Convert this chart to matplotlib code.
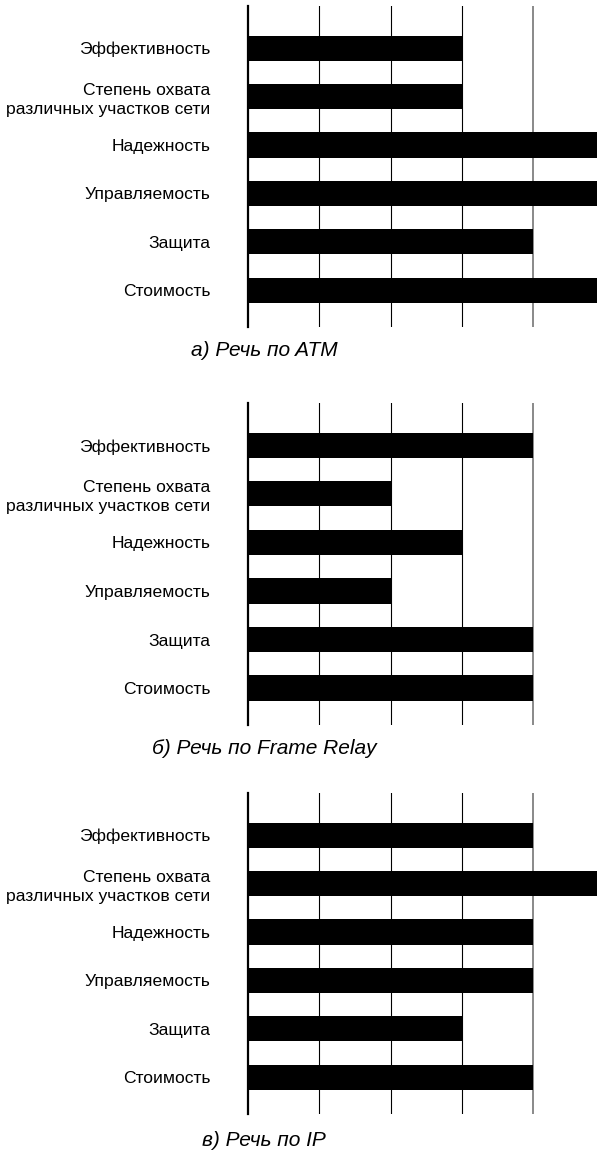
import matplotlib
matplotlib.use('Agg')
import matplotlib.pyplot as plt

plt.rcParams['font.family'] = ['Liberation Sans', 'DejaVu Sans']

# Categories (top to bottom)
criteria = ['Эффективность', 'Степень охвата\nразличных участков сети', 'Надежность',
            'Управляемость', 'Защита', 'Стоимость']

# Scores per technology
atm = [3, 3, 5, 5, 4, 5]
frame_relay = [4, 2, 3, 2, 4, 4]
ip = [4, 5, 4, 4, 3, 4]

captions = ['а) Речь по ATM', 'б) Речь по Frame Relay', 'в) Речь по IP']
series = [atm, frame_relay, ip]

W, H = 597, 1152
fig = plt.figure(figsize=(W / 100, H / 100), dpi=100)

# panel (axis top px, axis bottom px, caption y px)
panels = [(6, 327, 350), (403, 725, 749), (793, 1114, 1140)]

for (top, bot, cap_y), vals, cap in zip(panels, series, captions):
    ax = fig.add_axes([248 / W, 1 - bot / H, 349 / W, (bot - top) / H])
    ypos = list(range(len(criteria)))
    for x in [1, 2, 3]:
        ax.axvline(x, color='black', lw=0.8, zorder=1)
    ax.axvline(4, color='#808080', lw=1.3, zorder=1)
    ax.barh(ypos, vals, height=0.52, color='black', zorder=2)
    ax.set_xlim(0, 349 / 71.3)
    ax.set_ylim(5.76, -0.87)
    ax.set_yticks(ypos)
    ax.set_yticklabels(criteria, fontsize=12.6, linespacing=1.3)
    ax.tick_params(axis='y', length=0, pad=27)
    ax.set_xticks([])
    for s in ['top', 'right', 'bottom']:
        ax.spines[s].set_visible(False)
    ax.spines['left'].set_linewidth(1.6)
    ax.spines['left'].set_zorder(3)
    fig.text(264 / W, 1 - cap_y / H, cap, fontsize=15, style='italic',
             ha='center', va='center')

fig.savefig('out.png', dpi=100)
